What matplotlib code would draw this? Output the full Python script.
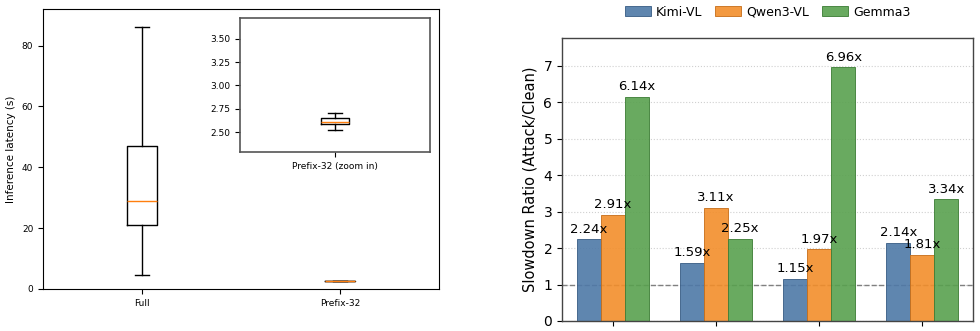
import matplotlib
matplotlib.use('Agg')
import matplotlib.pyplot as plt
import numpy as np

### DATA ###
box_labels = ['Full', 'Prefix-32']
box_med = [29.0, 2.61]
box_q1 = [21.0, 2.59]
box_q3 = [47.0, 2.65]
box_lo = [4.5, 2.53]
box_hi = [86.0, 2.71]

tasks = ['T1', 'T2', 'T3', 'T4']
models = ['Kimi-VL', 'Qwen3-VL', 'Gemma3']
kimi = [2.24, 1.59, 1.15, 2.14]
qwen = [2.91, 3.11, 1.97, 1.81]
gemma = [6.14, 2.25, 6.96, 3.34]

colors = ['#4e79a7', '#f28e2b', '#59a14f']
edges = ['#3b5f86', '#c8701c', '#3f7f38']


def make_stats(i):
    return dict(label=box_labels[i], med=box_med[i], q1=box_q1[i], q3=box_q3[i],
                whislo=box_lo[i], whishi=box_hi[i], fliers=[])


fig = plt.figure(figsize=(9.8, 3.31), dpi=100)

### LEFT: latency boxplot ###
ax1 = fig.add_axes([43/980, 1 - 289/331, 396/980, 280/331])
ax1.bxp([make_stats(0), make_stats(1)], positions=[1, 2], widths=0.15,
        medianprops=dict(color='#ff7f0e', linewidth=1.0))
ax1.set_xlim(0.5, 2.5)
ax1.set_ylim(0, 92)
ax1.set_ylabel('Inference latency (s)', fontsize=7.5)
ax1.tick_params(labelsize=6.5)
ax1.set_xticks([1, 2], box_labels)

# inset zoom on Prefix-32
axin = fig.add_axes([240/980, 1 - 152/331, 190/980, 134/331])
axin.bxp([make_stats(1)], positions=[1], widths=0.15,
         medianprops=dict(color='#ff7f0e', linewidth=1.0))
axin.set_xlim(0.5, 1.5)
axin.set_ylim(2.29, 3.72)
axin.set_yticks([2.5, 2.75, 3.0, 3.25, 3.5])
axin.set_xticks([1], ['Prefix-32 (zoom in)'])
axin.tick_params(labelsize=6.5)
for s in axin.spines.values():
    s.set_color('#555555')
    s.set_linewidth(1.2)

### RIGHT: slowdown bars ###
ax2 = fig.add_axes([562/980, 1 - 321/331, 411/980, 283/331])
x = np.arange(len(tasks))
w = 0.233
for j, (vals, name) in enumerate(zip([kimi, qwen, gemma], models)):
    pos = x + (j - 1) * w
    ax2.bar(pos, vals, w, color=colors[j], alpha=0.9, edgecolor=edges[j],
            linewidth=0.7, label=name, zorder=2)
    for p, v in zip(pos, vals):
        ax2.text(p, v + 0.1, f'{v:.2f}x', ha='center', va='bottom', fontsize=9.5, zorder=3)

ax2.axhline(1.0, color='gray', linestyle='--', linewidth=1, zorder=1.5)
ax2.set_xlim(-0.49, 3.49)
ax2.set_ylim(0, 7.76)
ax2.set_xticks(x, tasks, fontsize=10)
ax2.tick_params(axis='y', labelsize=10)
ax2.set_ylabel('Slowdown Ratio (Attack/Clean)', fontsize=10.5)
ax2.yaxis.grid(True, linestyle=':', color='#d0d0d0', linewidth=0.8, zorder=0)
ax2.set_axisbelow(True)
for s in ax2.spines.values():
    s.set_color('#444444')
    s.set_linewidth(1.0)
ax2.legend(loc='center', bbox_to_anchor=(0.5, 1 + 26/283), ncol=3, frameon=False,
           fontsize=9, handlelength=2.1, handleheight=0.9, handletextpad=0.4,
           columnspacing=1.0)

fig.savefig('out.png', dpi=100)
